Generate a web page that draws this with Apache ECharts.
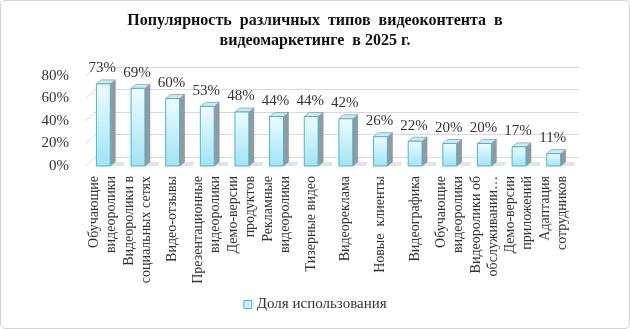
<!DOCTYPE html>
<html>
<head>
<meta charset="utf-8">
<script src="https://cdn.jsdelivr.net/npm/echarts@6/dist/echarts.min.js"></script>
<style>
  html, body { margin: 0; padding: 0; background: #fff; }
  #chart { width: 630px; height: 329px; box-sizing: border-box; border: 1px solid #d4d4d4; border-radius: 5px; }
</style>
</head>
<body>
<div id="chart"></div>
<script>
const categories = [
  'Обучающие\nвидеоролики',
  'Видеоролики в\nсоциальных сетях',
  'Видео-отзывы',
  'Презентационные\nвидеоролики',
  'Демо-версии\nпродуктов',
  'Рекламные\nвидеоролики',
  'Тизерные видео',
  'Видеореклама',
  'Новые  клиенты',
  'Видеографика',
  'Обучающие\nвидеоролики',
  'Видеоролики об\nобслуживании…',
  'Демо-версии\nприложений',
  'Адаптация\nсотрудников'
];
const usageShare = [73, 69, 60, 53, 48, 44, 44, 42, 26, 22, 20, 20, 17, 11];
const yTicks = [0, 20, 40, 60, 80];
const seriesName = 'Доля использования';

const SERIF = '"Liberation Serif", "Times New Roman", serif';
const DEPTH_X = 9, DEPTH_Y = 9;   // perspective offset of the back wall
const BAR_DX = 5, BAR_DY = 4;     // bar side / top depth

const chart = echarts.init(document.getElementById('chart'));

function renderBar(params, api) {
  const i = api.value(0);
  const v = api.value(1);
  const top = api.coord([i, v]);
  const base = api.coord([i, 0]);
  const w = api.size([1, 0])[0] * 0.4;
  const x0 = top[0] - w / 2;
  const x1 = top[0] + w / 2;
  const yt = top[1];
  const yb = base[1];
  return {
    type: 'group',
    children: [
      {
        type: 'polygon',
        shape: { points: [[x0 + 2, yb], [x1 + BAR_DX + 8, yb], [x1 + BAR_DX + 10, yb - BAR_DY], [x0 + BAR_DX, yb - BAR_DY]] },
        style: { fill: 'rgba(90,100,105,0.18)' },
        silent: true
      },
      {
        type: 'polygon',
        shape: { points: [[x1, yt], [x1 + BAR_DX, yt - BAR_DY], [x1 + BAR_DX, yb - BAR_DY], [x1, yb]] },
        style: { fill: '#8c9ca1', stroke: '#7f9196', lineWidth: 0.6 }
      },
      {
        type: 'polygon',
        shape: { points: [[x0, yt], [x0 + BAR_DX, yt - BAR_DY], [x1 + BAR_DX, yt - BAR_DY], [x1, yt]] },
        style: { fill: '#c6edf7', stroke: '#8aa2a8', lineWidth: 0.8 }
      },
      {
        type: 'rect',
        shape: { x: x0, y: yt, width: w, height: yb - yt },
        style: {
          fill: new echarts.graphic.LinearGradient(0, 0, 0, 1, [
            { offset: 0, color: '#eefcff' },
            { offset: 1, color: '#9fe3f4' }
          ]),
          stroke: '#4eb3cc',
          lineWidth: 1
        }
      },
      {
        type: 'text',
        style: {
          text: v + '%',
          x: top[0] - 1,
          y: yt - BAR_DY - 4,
          textAlign: 'center',
          textVerticalAlign: 'bottom',
          font: '15px ' + SERIF,
          fill: '#333'
        }
      }
    ]
  };
}

function renderDiagonal(params, api) {
  const p = api.coord([0, api.value(1)]);
  return {
    type: 'line',
    shape: { x1: p[0] - DEPTH_X, y1: p[1] + DEPTH_Y, x2: p[0], y2: p[1] },
    style: { stroke: '#d9d9d9', lineWidth: 1 },
    silent: true
  };
}

const option = {
  animation: false,
  title: {
    text: 'Популярность  различных  типов  видеоконтента  в\nвидеомаркетинге  в 2025 г.',
    left: 'center',
    top: 5,
    textStyle: { fontFamily: SERIF, fontWeight: 'bold', fontSize: 16, lineHeight: 20, color: '#111' }
  },
  legend: {
    top: 291,
    left: 'center',
    data: [{ name: seriesName, icon: 'rect', itemStyle: { color: '#c9f1fb', borderColor: '#4eb3cc', borderWidth: 1 } }],
    itemWidth: 8,
    itemHeight: 8,
    itemGap: 6,
    textStyle: { fontFamily: SERIF, fontSize: 15, color: '#333' }
  },
  grid: [
    { left: 85, right: 58, top: 75, bottom: 162 },
    { left: 94, right: 50, top: 66, bottom: 171 }
  ],
  xAxis: [
    {
      type: 'category',
      gridIndex: 0,
      data: categories,
      axisLine: { show: false },
      axisTick: { show: false },
      axisLabel: {
        interval: 0,
        rotate: 90,
        margin: 10,
        fontFamily: SERIF,
        fontSize: 14,
        lineHeight: 17,
        color: '#333'
      }
    },
    { type: 'value', gridIndex: 1, min: 0, max: 1, show: false }
  ],
  yAxis: [
    {
      type: 'value',
      gridIndex: 0,
      min: 0,
      max: 80,
      interval: 20,
      axisLine: { show: false },
      axisTick: { show: false },
      splitLine: { show: false },
      axisLabel: { formatter: '{value}%', margin: 17, fontFamily: SERIF, fontSize: 15, color: '#333' }
    },
    {
      type: 'value',
      gridIndex: 1,
      min: 0,
      max: 80,
      interval: 20,
      axisLine: { show: false },
      axisTick: { show: false },
      axisLabel: { show: false },
      splitLine: { lineStyle: { color: '#d9d9d9', width: 1 } }
    }
  ],
  series: [
    {
      type: 'custom',
      name: 'wall',
      xAxisIndex: 1,
      yAxisIndex: 1,
      silent: true,
      renderItem: renderDiagonal,
      data: yTicks.map((t) => [0, t])
    },
    {
      type: 'custom',
      name: seriesName,
      xAxisIndex: 0,
      yAxisIndex: 0,
      renderItem: renderBar,
      itemStyle: { color: '#c9f1fb' },
      data: usageShare.map((v, i) => [i, v])
    }
  ]
};

chart.setOption(option);
</script>
</body>
</html>
